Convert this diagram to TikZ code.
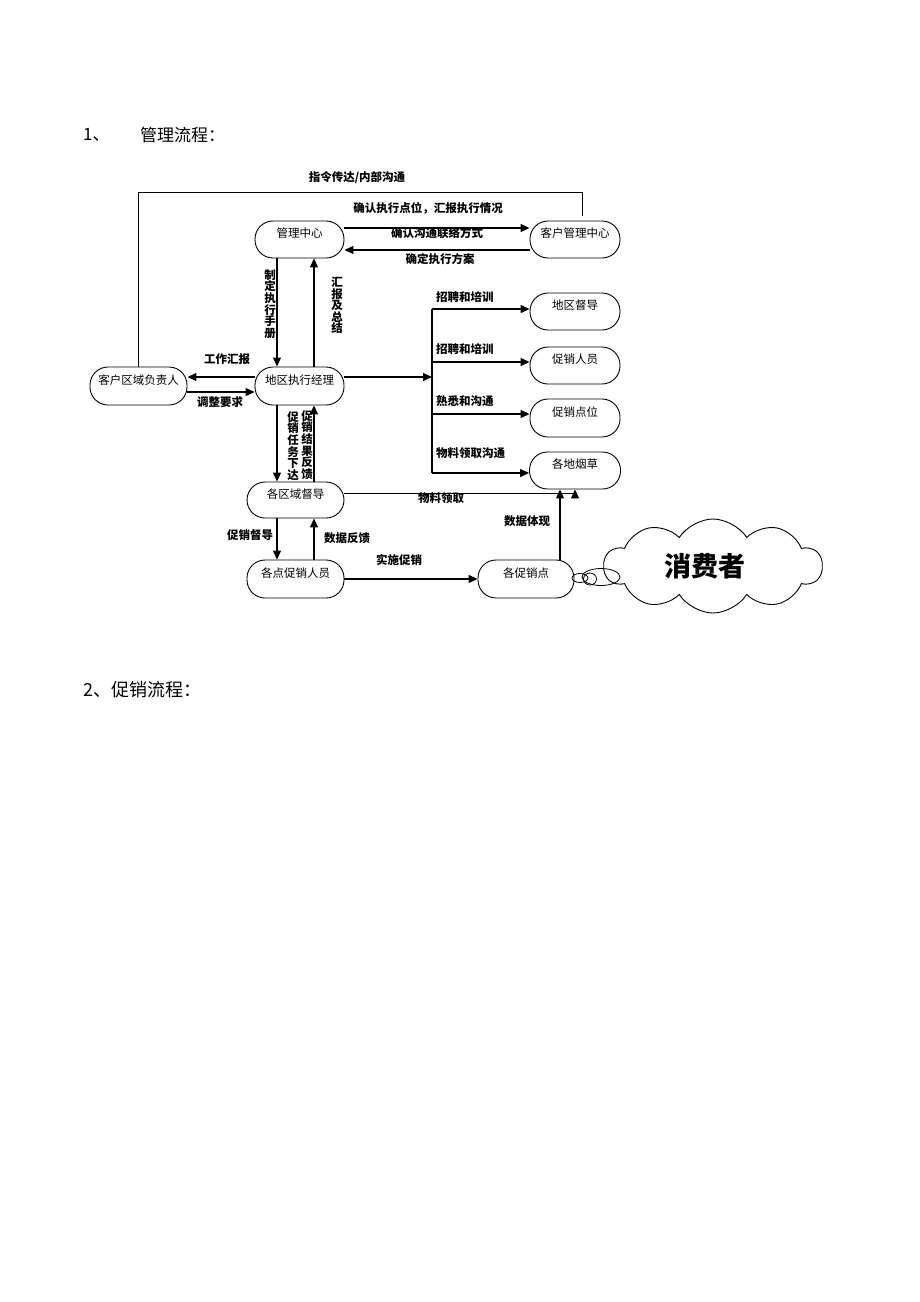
\documentclass[tikz,border=0pt]{standalone}
\usepackage{fontspec}
\setmainfont{Noto Sans CJK SC}
\usetikzlibrary{arrows.meta,shapes.symbols,shapes.geometric,calc}
\begin{document}
\begin{tikzpicture}[x=1pt,y=-1pt,
 box/.style={draw,line width=0.9pt,rounded corners=18pt,minimum height=37pt,inner sep=0pt,
   text height=6pt,text depth=10pt,font=\fontsize{11.5}{12}\selectfont},
 arr/.style={line width=1.2pt,-{Triangle[length=9pt,width=8pt]}},
 ln/.style={line width=1.2pt},
 thin/.style={line width=0.9pt},
 lab/.style={font=\bfseries\fontsize{11.5}{12}\selectfont,inner sep=0pt},
 vlab/.style={font=\bfseries\fontsize{11.5}{11.6}\selectfont,align=center,inner sep=0pt},
 bub/.style={draw,ellipse,line width=0.8pt,inner sep=0pt},
]
\path[fill=white,use as bounding box] (0,0) rectangle (920,1302);

% headings
\node[anchor=west,inner sep=0pt,font=\fontsize{17}{20}\selectfont] (h1n) at (83,135) {1、};
\node[anchor=west,inner sep=0pt,font=\fontsize{17}{20}\selectfont] (h1) at (140,135) {管理流程：};
\node[anchor=west,inner sep=0pt,font=\fontsize{18}{20}\selectfont] (h2) at (83,690) {2、促销流程：};

% boxes
\node[box,minimum width=89pt] (mc) at (299.5,239.5) {管理中心};
\node[box,minimum width=90pt] (kc) at (575,239.5) {客户管理中心};
\node[box,minimum width=89pt,minimum height=38pt] (dq) at (299.5,386) {地区执行经理};
\node[box,minimum width=97pt,minimum height=38pt] (kq) at (138.5,386) {客户区域负责人};
\node[box,minimum width=97pt,minimum height=36pt] (gq) at (295.5,500) {各区域督导};
\node[box,minimum width=97pt,minimum height=38pt] (gd) at (295.5,579) {各点促销人员};
\node[box,minimum width=96pt,minimum height=38pt] (gc) at (526,579) {各促销点};
\node[box,minimum width=90pt] (r1) at (575,311.5) {地区督导};
\node[box,minimum width=90pt] (r2) at (575,365.5) {促销人员};
\node[box,minimum width=90pt,minimum height=38pt] (r3) at (575,418) {促销点位};
\node[box,minimum width=91pt] (r4) at (575,470.5) {各地烟草};

% cloud and bubbles
\node[cloud,draw,line width=0.9pt,cloud puffs=10,cloud puff arc=115,aspect=2.2,
  minimum width=218pt,minimum height=94pt,inner sep=0pt,
  font=\bfseries\fontsize{27}{30}\selectfont] (xf) at (713,566) {\hspace*{-16pt}消费者};
\node[bub,minimum width=16pt,minimum height=9pt] (e1) at (580,578) {};
\node[bub,minimum width=13pt,minimum height=12pt] (e2) at (590,579) {};
\node[bub,minimum width=38pt,minimum height=17pt] (e3) at (601,577) {};

% top loop
\coordinate (t1) at (138.5,192);
\coordinate (t2) at (582,192);
\coordinate (t3) at (582,216);
\draw[thin] (kq.north) -- (t1) -- (t2) -- (t3);
\node[lab] (l0) at (357,178) {指令传达/内部沟通};

% management centre <-> client centre
\draw[arr] ([yshift=11.5pt]mc.east) -- ([yshift=11.5pt]kc.west);
\draw[arr] ([yshift=-10.5pt]kc.west) -- ([yshift=-10.5pt]mc.east);
\node[lab] (l1) at (428,208) {确认执行点位，汇报执行情况};
\node[lab] (l2) at (437,233) {确认沟通联络方式};
\node[lab] (l3) at (440,259) {确定执行方案};

% management centre <-> regional manager
\draw[arr] ([xshift=-22.5pt]mc.south) -- ([xshift=-22.5pt]dq.north);
\draw[arr] ([xshift=14.5pt]dq.north) -- ([xshift=14.5pt]mc.south);
\node[vlab] (l4) at (270,304) {制\\定\\执\\行\\手\\册};
\node[vlab] (l5) at (337,305.5) {汇\\报\\及\\总\\结};

% regional manager <-> client regional head
\draw[arr] ([yshift=9pt]dq.west) -- ([yshift=9pt]kq.east);
\draw[arr] ([yshift=-6pt]kq.east) -- ([yshift=-6pt]dq.west);
\node[lab] (l6) at (227,359) {工作汇报};
\node[lab] (l7) at (220,402) {调整要求};

% regional manager <-> area supervisors
\draw[arr] ([xshift=-22.5pt]dq.south) -- ([xshift=-22.5pt]dq.south |- gq.north);
\draw[arr] ([xshift=14.5pt]dq.south |- gq.north) -- ([xshift=14.5pt]dq.south);
\node[vlab] (l8) at (293,446) {促\\销\\任\\务\\下\\达};
\node[vlab] (l9) at (307,445) {促\\销\\结\\果\\反\\馈};

% branch to the right
\coordinate (bx) at (432,377);
\coordinate (b1) at (432,309);
\coordinate (b2) at (432,362);
\coordinate (b3) at (432,414);
\coordinate (b4) at (432,473);
\draw[arr] ([yshift=9pt]dq.east) -- (bx);
\draw[ln] (b1) -- (b4);
\draw[arr] (b1) -- (b1 -| r1.west);
\draw[arr] (b2) -- (b2 -| r2.west);
\draw[arr] (b3) -- (b3 -| r3.west);
\draw[arr] (b4) -- (b4 -| r4.west);
\node[lab,anchor=west] (l10) at (436,297) {招聘和培训};
\node[lab,anchor=west] (l11) at (436,349) {招聘和培训};
\node[lab,anchor=west] (l12) at (436,401) {熟悉和沟通};
\node[lab,anchor=west] (l13) at (436,453) {物料领取沟通};

% supervisors -> tobacco
\draw[arr,thin] ([yshift=7pt]gq.east) -| (r4.south);
\node[lab] (l14) at (441,498) {物料领取};

% promo points -> tobacco
\draw[arr] ([xshift=34pt]gc.north) -- ([xshift=34pt]gc.north |- r4.south);
\node[lab] (l15) at (527,521) {数据体现};

% supervisors <-> promo staff
\draw[arr] ([xshift=-18.5pt]gq.south) -- ([xshift=-18.5pt]gq.south |- gd.north);
\draw[arr] ([xshift=18.5pt]gd.north) -- ([xshift=18.5pt]gq.south);
\node[lab] (l16) at (250,535) {促销督导};
\node[lab] (l17) at (347,538) {数据反馈};

% promo staff -> promo points
\draw[arr] (gd.east) -- (gc.west);
\node[lab] (l18) at (399,560) {实施促销};
\end{tikzpicture}
\end{document}
